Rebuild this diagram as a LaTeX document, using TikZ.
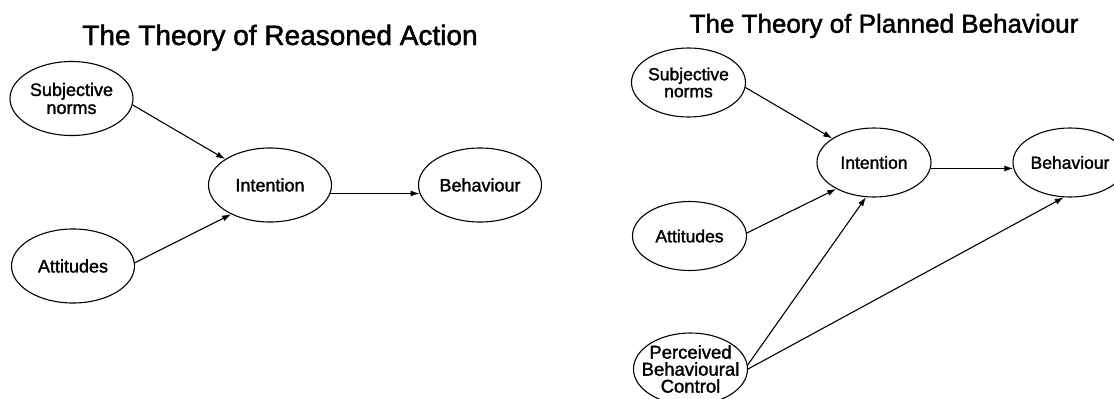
\documentclass[tikz,border=0pt]{standalone}
\usepackage{fontspec}
\setmainfont{Liberation Sans}[UprightFeatures={FakeBold=1.6}]
\usetikzlibrary{shapes.geometric,arrows.meta}

\begin{document}
\begin{tikzpicture}[x=1pt,y=-1pt,
    factor/.style={draw, line width=1.1pt, ellipse, inner sep=-12pt, align=center},
    bigfactor/.style={factor, minimum width=123pt, minimum height=74pt, font=\fontsize{18}{18}\selectfont},
    smallfactor/.style={factor, minimum width=114pt, minimum height=69pt, font=\fontsize{17.5}{17}\selectfont},
    link/.style={-{Latex[length=9pt,width=6pt]}, line width=1.1pt},
    heading/.style={anchor=base}]
        \clip (0,0) rectangle (1114,399);

        % reasoned action
        \node[heading, font=\fontsize{28}{30}\selectfont] (tra) at (280,45) {The Theory of Reasoned Action};
        \node[bigfactor] (sn1) at (71.5,98.5) {Subjective\\norms};
        \node[bigfactor] (att1) at (73,266) {Attitudes};
        \node[bigfactor] (int1) at (270,185) {Intention};
        \node[bigfactor] (beh1) at (480,185) {Behaviour};

        \draw[link] (sn1.-6) -- (int1.150);
        \draw[link] (att1.3) -- (int1.217);
        \draw[link] (int1.-8) -- (beh1.188);

        % planned behaviour
        \node[heading, font=\fontsize{26}{28}\selectfont] (tpb) at (884,32.7) {The Theory of Planned Behaviour};
        \node[smallfactor] (sn2) at (688.5,82.5) {Subjective\\norms};
        \node[smallfactor] (att2) at (689.5,236) {Attitudes};
        \node[smallfactor, minimum height=72pt, font=\fontsize{18.5}{17}\selectfont] (pbc2) at (690.5,369) {Perceived\\Behavioural\\Control};
        \node[smallfactor] (int2) at (874,162.5) {Intention};
        \node[smallfactor] (beh2) at (1070,162.5) {Behaviour};

        \draw[link] (sn2.-5) -- (int2.150);
        \draw[link] (att2.3) -- (int2.215);
        \draw[link] (pbc2.4) -- (int2.257);
        \draw[link] (pbc2.0) -- (beh2.260);
        \draw[link] (int2.-6) -- (beh2.186);
\end{tikzpicture}
\end{document}
